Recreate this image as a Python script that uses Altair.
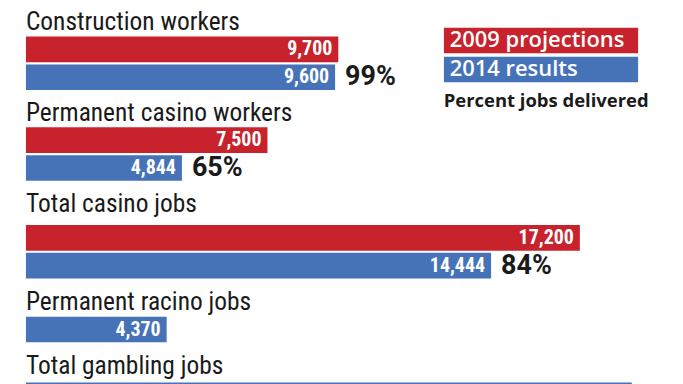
import altair as alt
import pandas as pd

# ---- data ----
groups = [
    "Construction workers",
    "Permanent casino workers",
    "Total casino jobs",
    "Permanent racino jobs",
    "Total gambling jobs",
]
projections = [9700, 7500, 17200, None, None]
results = [9600, 4844, 14444, 4370, 18814]
delivered = ["99%", "65%", "84%", "", ""]
series_names = ["2009 projections", "2014 results"]
legend_note = "Percent jobs delivered"

RED = "#C8232C"
BLUE = "#4673B8"
INK = "#1a1a1a"
FONT = "Liberation Sans Narrow, Roboto Condensed, Roboto, sans-serif"
WIDE = "Open Sans, Roboto, sans-serif"
PCT_FONT = "Roboto, sans-serif"

rows = []
for g, p, r, d in zip(groups, projections, results, delivered):
    if p is not None:
        rows.append(dict(group=g, series=series_names[0], value=p, pct=""))
    rows.append(dict(group=g, series=series_names[1], value=r, pct=d))
df = pd.DataFrame(rows)
df["label"] = df["value"].map(lambda v: f"{v:,}")

# per-panel title offsets (spacing between a group title and its bars)
title_offsets = [1, 0.5, 7, 1.5, 3.5]

# the legend entry is clipped to its label's width; pad the longest label
# (invisible white dot past the swatch edge) so the full swatch shows
PAD = "\u00a0" * 5 + "."
legend = alt.Legend(
    orient="none",
    legendX=419,
    legendY=-9,
    direction="vertical",
    padding=0,
    title=legend_note,
    titleOrient="bottom",
    titleAnchor="start",
    titleFont=WIDE,
    titleFontSize=18.5,
    titleFontWeight="bold",
    titleColor=INK,
    titlePadding=10,
    titleLimit=400,
    symbolType="M-1,-0.1333H1V0.1333H-1Z",
    symbolSize=38025,
    symbolStrokeWidth=0,
    symbolOpacity=1,
    clipHeight=26,
    rowPadding=3,
    labelOffset={"expr": "-189"},
    labelExpr="datum.index == 0 ? datum.label + '" + PAD + "' : datum.label",
    labelFont=WIDE,
    labelFontSize=22,
    labelFontWeight=600,
    labelColor="white",
    labelLimit=400,
)


def panel(i):
    g = groups[i]
    sub = df[df["group"] == g]
    base = alt.Chart(sub).encode(
        y=alt.Y(
            "series:N",
            sort=series_names,
            axis=None,
            scale=alt.Scale(paddingInner=0.08, paddingOuter=0),
        ),
        x=alt.X("value:Q", axis=None, scale=alt.Scale(domain=[0, 20000], nice=False)),
    )
    bars = base.mark_bar().encode(
        color=alt.Color(
            "series:N",
            scale=alt.Scale(domain=series_names, range=[RED, BLUE]),
            legend=legend,
        )
    )
    values = base.mark_text(
        align="right",
        baseline="middle",
        dx=-6,
        font=FONT,
        fontSize=20,
        fontWeight="bold",
        color="white",
    ).encode(text="label:N")
    pcts = (
        base.transform_filter("datum.pct != ''")
        .mark_text(
            align="left",
            baseline="middle",
            dx=10,
            font=PCT_FONT,
            fontSize=27,
            fontWeight="bold",
            color=INK,
        )
        .encode(text="pct:N")
    )
    return alt.layer(bars, values, pcts).properties(
        width=646,
        height=alt.Step(28),
        title=alt.TitleParams(
            text=g,
            anchor="start",
            font=FONT,
            fontSize=25.5,
            fontWeight="normal",
            color=INK,
            offset=title_offsets[i],
        ),
    )


chart = (
    alt.vconcat(*[panel(i) for i in range(len(groups))], spacing=11)
    .properties(padding={"left": 18, "top": 1, "right": 5, "bottom": 5})
    .configure(font=FONT)
    .configure_view(strokeWidth=0, stroke="transparent")
)

chart.save("out.html", embed_options={"renderer": "svg", "actions": False})
